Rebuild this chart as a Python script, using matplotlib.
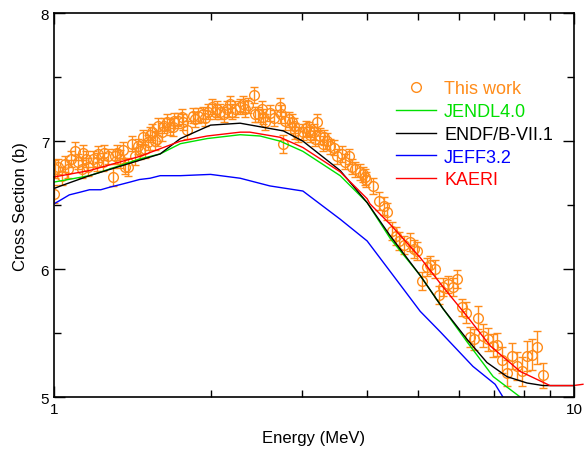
import numpy as np
import matplotlib
matplotlib.use('Agg')
import matplotlib.pyplot as plt
from matplotlib.ticker import FixedLocator, NullFormatter

plt.rcParams['font.family'] = ['Liberation Sans', 'DejaVu Sans']

# Measured cross section (this work)
exp_e = [1.004, 1.018, 1.036, 1.050, 1.064, 1.097, 1.112, 1.132, 1.137, 1.163,
         1.189, 1.210, 1.215, 1.242, 1.270, 1.299, 1.322, 1.339, 1.369, 1.388,
         1.413, 1.431, 1.463, 1.496, 1.516, 1.543, 1.564, 1.578, 1.585, 1.613,
         1.649, 1.671, 1.694, 1.731, 1.770, 1.802, 1.867, 1.892, 1.934, 1.978,
         2.013, 2.040, 2.085, 2.151, 2.180, 2.229, 2.279, 2.309, 2.361, 2.424,
         2.435, 2.467, 2.512, 2.523, 2.545, 2.720, 2.732, 2.756, 2.781, 2.831,
         2.869, 2.907, 2.946, 3.012, 3.052, 3.093, 3.162, 3.177, 3.205, 3.248,
         3.291, 3.350, 3.394, 3.455, 3.502, 3.580, 3.628, 3.693, 3.742, 3.792,
         3.877, 3.929, 3.964, 3.981, 4.107, 4.217, 4.312, 4.370, 4.467, 4.547,
         4.608, 4.710, 4.837, 4.924, 4.990, 5.102, 5.216, 5.286, 5.404, 5.500,
         5.598, 5.724, 5.852, 5.957, 6.090, 6.199, 6.31, 6.42, 6.54, 6.68,
         6.83, 6.99, 7.11, 7.27, 7.43, 7.60, 7.77, 7.94, 8.12, 8.30,
         8.49, 8.72,
         1.001, 1.08, 1.15, 1.25, 1.31, 1.36, 1.45, 1.48, 1.53, 1.63,
         1.70, 1.76, 1.85, 1.95, 2.06, 2.12, 2.20, 2.33, 2.60, 2.65,
         2.90, 3.10, 3.30]
exp_xs = [6.78, 6.80, 6.73, 6.82, 6.78, 6.92, 6.84, 6.78, 6.91, 6.80,
          6.86, 6.84, 6.90, 6.84, 6.88, 6.72, 6.91, 6.86, 6.80, 6.80,
          6.98, 6.88, 6.92, 6.94, 6.99, 7.07, 7.00, 7.02, 7.12, 7.07,
          7.15, 7.11, 7.11, 7.16, 7.15, 7.09, 7.17, 7.20, 7.21, 7.23,
          7.27, 7.23, 7.23, 7.25, 7.29, 7.25, 7.27, 7.29, 7.28, 7.36,
          7.21, 7.21, 7.25, 7.19, 7.15, 7.27, 7.21, 6.98, 7.16, 7.17,
          7.15, 7.08, 7.05, 7.07, 7.10, 7.09, 7.07, 7.02, 7.15, 7.04,
          6.98, 7.00, 6.96, 6.95, 6.88, 6.90, 6.84, 6.88, 6.80, 6.78,
          6.76, 6.74, 6.72, 6.70, 6.65, 6.53, 6.49, 6.45, 6.30, 6.26,
          6.22, 6.19, 6.21, 6.16, 6.14, 5.91, 6.02, 6.03, 6.00, 5.80,
          5.86, 5.88, 5.86, 5.92, 5.70, 5.66, 5.47, 5.45, 5.62, 5.48,
          5.45, 5.40, 5.41, 5.29, 5.19, 5.32, 5.24, 5.20, 5.32, 5.33,
          5.39, 5.17,
          6.59, 6.86, 6.86, 6.91, 6.88, 6.93, 6.96, 7.03, 7.05, 7.12,
          7.16, 7.19, 7.20, 7.18, 7.25, 7.21, 7.23, 7.25, 7.22, 7.18,
          7.12, 7.05, 7.03]
exp_err = [0.07, 0.06, 0.07, 0.06, 0.07, 0.07, 0.06, 0.07, 0.06, 0.07,
           0.06, 0.07, 0.06, 0.07, 0.06, 0.07, 0.06, 0.07, 0.06, 0.07,
           0.06, 0.07, 0.06, 0.07, 0.06, 0.06, 0.07, 0.06, 0.06, 0.07,
           0.06, 0.06, 0.07, 0.06, 0.06, 0.07, 0.06, 0.06, 0.06, 0.06,
           0.06, 0.06, 0.06, 0.06, 0.06, 0.06, 0.06, 0.06, 0.06, 0.06,
           0.06, 0.06, 0.06, 0.06, 0.06, 0.07, 0.07, 0.07, 0.07, 0.06,
           0.06, 0.06, 0.06, 0.06, 0.06, 0.06, 0.06, 0.06, 0.06, 0.06,
           0.06, 0.06, 0.06, 0.06, 0.06, 0.06, 0.06, 0.06, 0.06, 0.06,
           0.06, 0.06, 0.06, 0.06, 0.06, 0.07, 0.07, 0.07, 0.07, 0.07,
           0.07, 0.07, 0.07, 0.07, 0.07, 0.07, 0.07, 0.07, 0.07, 0.07,
           0.07, 0.07, 0.07, 0.07, 0.07, 0.08, 0.08, 0.08, 0.09, 0.09,
           0.09, 0.09, 0.09, 0.10, 0.10, 0.10, 0.11, 0.11, 0.12, 0.12,
           0.13, 0.10,
           0.07, 0.06, 0.06, 0.06, 0.06, 0.06, 0.06, 0.06, 0.06, 0.06,
           0.06, 0.06, 0.06, 0.06, 0.06, 0.06, 0.06, 0.06, 0.06, 0.06,
           0.06, 0.06, 0.06]

# Evaluated data libraries
jendl_e = [1.0, 1.17, 1.46, 1.6, 1.75, 1.97, 2.28, 2.49, 2.72, 3.01,
           3.55, 4.0, 4.43, 5.06, 5.6, 6.23, 6.99, 7.88, 8.2]
jendl_xs = [6.68, 6.73, 6.86, 6.90, 6.98, 7.02, 7.05, 7.04, 7.00, 6.92,
            6.73, 6.52, 6.24, 5.95, 5.69, 5.43, 5.16, 5.00, 4.95]

endf_e = [1.0, 1.03, 1.17, 1.46, 1.6, 1.75, 2.0, 2.28, 2.76, 3.01,
          3.55, 4.0, 4.43, 5.06, 5.6, 6.23, 6.8, 7.43, 8.12, 8.72, 9.96]
endf_xs = [6.63, 6.65, 6.73, 6.85, 6.90, 7.02, 7.125, 7.14, 7.08, 7.00,
           6.77, 6.52, 6.26, 5.95, 5.69, 5.45, 5.27, 5.16, 5.11, 5.09, 5.09]

jeff_e = [1.0, 1.03, 1.07, 1.12, 1.17, 1.23, 1.28, 1.34, 1.40, 1.46,
          1.53, 1.6, 1.75, 2.0, 2.28, 2.6, 3.01, 3.55, 4.0, 4.49,
          5.06, 5.53, 6.39, 7.05, 7.3, 7.5]
jeff_xs = [6.51, 6.54, 6.58, 6.60, 6.62, 6.62, 6.64, 6.66, 6.68, 6.70,
           6.71, 6.73, 6.73, 6.74, 6.71, 6.65, 6.61, 6.39, 6.22, 5.95,
           5.67, 5.51, 5.24, 5.10, 5.00, 4.90]

kaeri_e = [1.0, 1.17, 1.46, 1.75, 1.97, 2.28, 2.38, 2.72, 3.01, 3.55,
           4.0, 4.05, 4.43, 5.06, 5.6, 6.23, 6.9, 7.88, 8.99, 9.96, 10.4]
kaeri_xs = [6.72, 6.77, 6.88, 7.00, 7.04, 7.07, 7.07, 7.03, 6.95, 6.76,
            6.55, 6.51, 6.35, 6.09, 5.86, 5.63, 5.40, 5.20, 5.09, 5.09, 5.10]

fig = plt.figure(figsize=(5.84, 4.56), dpi=100)
ax = fig.add_axes([0.0925, 0.127, 0.8905, 0.842])

orange = '#ff8c1a'
ax.errorbar(exp_e, exp_xs, yerr=exp_err, fmt='none', ecolor=orange,
            elinewidth=1, capsize=3, capthick=1)
ax.plot(exp_e, exp_xs, 'o', mfc='none', mec=orange, ms=7, mew=1,
        label='This work')
ax.plot(jendl_e, jendl_xs, color='#00e000', lw=1, label='JENDL4.0')
ax.plot(endf_e, endf_xs, color='black', lw=1, label='ENDF/B-VII.1')
ax.plot(jeff_e, jeff_xs, color='#0000ff', lw=1, label='JEFF3.2')
ax.plot(kaeri_e, kaeri_xs, color='#ff0000', lw=1, label='KAERI', clip_on=False)

ax.set_xscale('log')
ax.set_xlim(1, 10)
ax.set_ylim(5, 8)
ax.xaxis.set_major_locator(FixedLocator([1, 10]))
ax.xaxis.set_minor_locator(FixedLocator([2, 3, 4, 5, 6, 7, 8, 9]))
ax.xaxis.set_major_formatter(plt.FuncFormatter(lambda v, p: '%g' % v))
ax.xaxis.set_minor_formatter(NullFormatter())
ax.set_yticks([5, 6, 7, 8])
ax.set_yticks([5.5, 6.5, 7.5], minor=True)

ax.tick_params(which='both', direction='in', top=True, right=True,
               labelsize=11, width=1)
ax.tick_params(which='major', length=8)
ax.tick_params(which='minor', length=5)
for s in ax.spines.values():
    s.set_linewidth(1.2)

ax.set_xlabel('Energy (MeV)', fontsize=12, labelpad=10)
ax.set_ylabel('Cross Section (b)', fontsize=12, labelpad=9)

leg = ax.legend(loc='upper left', bbox_to_anchor=(0.658, 0.825), frameon=False,
                fontsize=13, numpoints=1, handlelength=2.2, handletextpad=0.45,
                labelspacing=0.32, borderpad=0, borderaxespad=0)
for txt, col in zip(leg.get_texts(), [orange, '#00e000', 'black', '#0000ff', '#ff0000']):
    txt.set_color(col)

fig.savefig('out.png', dpi=100)
